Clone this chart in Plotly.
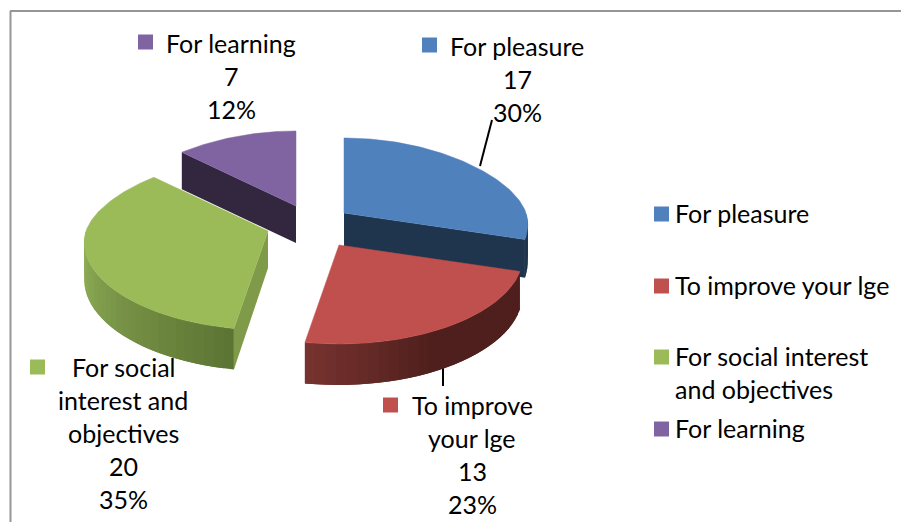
import math
import plotly.graph_objects as go

categories = ["For pleasure", "To improve your lge", "For social interest and objectives", "For learning"]
values = [17, 13, 20, 7]
percent_labels = ["30%", "23%", "35%", "12%"]
legend_lines = [["For pleasure"], ["To improve your lge"], ["For social interest", "and objectives"], ["For learning"]]
label_lines = [["For pleasure"], ["To improve", "your lge"], ["For social", "interest and", "objectives"], ["For learning"]]

top_colors = ["#4f81bd", "#c0504d", "#9bbb59", "#8064a2"]
cut_colors = ["#1f344d", None, "#7f9b49", "#33263f"]
wall_ramps = [("#1f344d", "#1f344d"), ("#4e1f1c", "#76322f"), ("#5d7534", "#8eac56"), ("#33263f", "#33263f")]

# Layout of the exploded slices, in page pixels
apex = [(344, 213), (339, 245), (268, 231), (296, 206)]
RX, RY_BACK, RY_FRONT, PERSP = 182, 75, 99, 0.14
FONT = "Lato"
FS = 25

label_pos = [(517, 46, 422, 45), (472, 405, 383, 405), (123, 367, 30, 367), (231, 43, 138, 42)]
LINE = 33
legend_key_y = [214, 286, 357, 429]
LEGEND_KEY_X, LEGEND_TEXT_X = 661.5, 673


def edge(a, t):
    c, s = math.cos(t), math.sin(t)
    ry = RY_BACK if c > 0 else RY_FRONT * (0.85 + 0.15 * abs(c))
    return a[0] + RX * (1 - PERSP * c) * s, a[1] - ry * c


def depth(t):
    return 37 + 4 * max(0, -math.cos(t))


def hex2(c):
    return tuple(int(c[i:i + 2], 16) for i in (1, 3, 5))


def mix(c1, c2, f):
    a, b = hex2(c1), hex2(c2)
    return "rgb(%d,%d,%d)" % tuple(round(a[i] + (b[i] - a[i]) * f) for i in range(3))


def poly(fig, pts, color, width=0.0):
    fig.add_trace(go.Scatter(
        x=[p[0] for p in pts] + [pts[0][0]], y=[p[1] for p in pts] + [pts[0][1]],
        mode="lines", fill="toself", fillcolor=color, line=dict(color=color, width=width),
        showlegend=False, hoverinfo="skip"))


fig = go.Figure()
total = sum(values)
spans = []
acc = 0
for v in values:
    spans.append((acc / total * 2 * math.pi, (acc + v) / total * 2 * math.pi))
    acc += v

for i in [3, 0, 2, 1]:
    a = apex[i]
    t0, t1 = spans[i]
    low = (a[0], a[1] + 37)
    w0, w1 = max(t0, math.pi / 2), min(t1, 3 * math.pi / 2)
    if w1 > w0:
        n = max(2, int((w1 - w0) / 0.05))
        for k in range(n):
            ta = w0 + (w1 - w0) * k / n
            # each strip runs on past the next one, so later strips cover the seam
            tb = w0 + (w1 - w0) * min(k + 2, n) / n
            pa, pb = edge(a, ta), edge(a, tb)
            f = k / (n - 1)
            ramp = wall_ramps[i]
            if i == 1:
                f = max(0, (f - 0.55) / 0.45)
            if i == 2:
                f = min(1, f * 1.15)
            poly(fig, [pa, pb, (pb[0], pb[1] + depth(tb)), (pa[0], pa[1] + depth(ta))], mix(ramp[0], ramp[1], f))
    if i == 0:
        p = edge(a, t1)
        poly(fig, [a, p, (p[0], p[1] + depth(t1)), low], cut_colors[i])
    if i == 2:
        p = edge(a, t0)
        poly(fig, [a, p, (p[0], p[1] + depth(t0)), low], cut_colors[i])
    if i == 3:
        p = edge(a, t0)
        poly(fig, [a, p, (p[0], p[1] + depth(t0)), low], cut_colors[i])
    m = max(8, int((t1 - t0) / 0.02))
    pts = [a] + [edge(a, t0 + (t1 - t0) * k / m) for k in range(m + 1)]
    poly(fig, pts, top_colors[i], 0.5)

annos = []
sx, sy, sc = [], [], []
font = dict(family=FONT, size=FS, color="#000000")
for i in range(4):
    cx, cy, kx, ky = label_pos[i]
    lines = label_lines[i] + [str(values[i]), percent_labels[i]]
    for j, txt in enumerate(lines):
        annos.append(dict(x=cx, y=cy + j * LINE, text=txt, showarrow=False, xanchor="center", yanchor="middle", font=font))
    sx.append(kx + 7.5)
    sy.append(ky)
    sc.append(top_colors[i])
    for j, txt in enumerate(legend_lines[i]):
        annos.append(dict(x=LEGEND_TEXT_X, y=legend_key_y[i] - 1 + j * LINE, text=txt, showarrow=False,
                          xanchor="left", yanchor="middle", font=font))
    sx.append(LEGEND_KEY_X)
    sy.append(legend_key_y[i])
    sc.append(top_colors[i])
fig.add_trace(go.Scatter(x=sx, y=sy, mode="markers", showlegend=False, hoverinfo="skip",
                         marker=dict(symbol="square", size=15, color=sc)))

shapes = [
    dict(type="line", x0=480, y0=166, x1=492, y1=120, line=dict(color="#000000", width=2), layer="below"),
    dict(type="line", x0=443, y0=366, x1=443, y1=386, line=dict(color="#000000", width=2), layer="below"),
    dict(type="line", x0=10.5, y0=11, x1=10.5, y1=522, line=dict(color="#969696", width=2), layer="below"),
    dict(type="line", x0=10, y0=11, x1=901, y1=11, line=dict(color="#969696", width=2), layer="below"),
]

fig.update_layout(width=901, height=522, margin=dict(l=0, r=0, t=0, b=0), autosize=False,
                  paper_bgcolor="#ffffff", plot_bgcolor="#ffffff", showlegend=False,
                  xaxis=dict(range=[0, 901], visible=False, fixedrange=True),
                  yaxis=dict(range=[522, 0], visible=False, fixedrange=True),
                  annotations=annos, shapes=shapes)
fig.write_html("out.html", config={"displayModeBar": False},
               post_script="document.body.style.margin='0';document.documentElement.style.overflow='hidden';")
